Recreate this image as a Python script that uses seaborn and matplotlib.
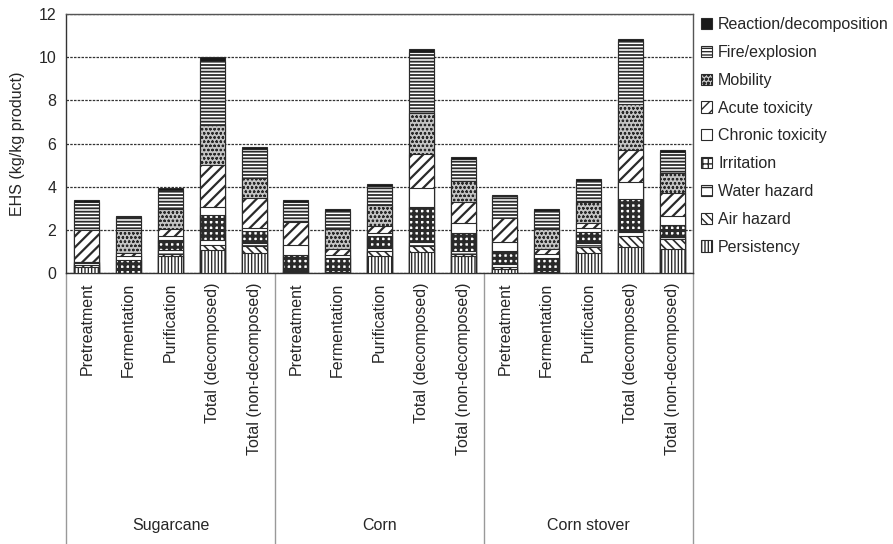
import numpy as np
import pandas as pd
import matplotlib
matplotlib.use("Agg")
import matplotlib.pyplot as plt
import matplotlib.transforms as mtransforms
from matplotlib.patches import Patch
import seaborn as sns

# ---- data (kg/kg product) ----
feedstocks = ["Sugarcane", "Corn", "Corn stover"]
stages = ["Pretreatment", "Fermentation", "Purification",
          "Total (decomposed)", "Total (non-decomposed)"]

persistency  = [0.30, 0.00, 0.77, 1.08, 0.93,  0.05, 0.05, 0.77, 0.95, 0.80,  0.20, 0.05, 0.93, 1.20, 1.11]
air_hazard   = [0.08, 0.00, 0.13, 0.22, 0.30,  0.03, 0.00, 0.23, 0.31, 0.10,  0.10, 0.00, 0.27, 0.50, 0.46]
water_hazard = [0.07, 0.00, 0.18, 0.24, 0.16,  0.02, 0.00, 0.16, 0.16, 0.10,  0.10, 0.00, 0.19, 0.18, 0.13]
irritation   = [0.08, 0.60, 0.46, 1.16, 0.54,  0.75, 0.65, 0.54, 1.63, 0.85,  0.60, 0.65, 0.49, 1.55, 0.54]
chronic_tox  = [0.00, 0.17, 0.19, 0.38, 0.15,  0.47, 0.15, 0.15, 0.88, 0.47,  0.45, 0.20, 0.20, 0.77, 0.41]
acute_tox    = [1.47, 0.15, 0.31, 1.92, 1.40,  1.03, 0.26, 0.32, 1.59, 0.99,  1.10, 0.21, 0.24, 1.51, 1.04]
mobility     = [0.00, 1.08, 0.92, 1.85, 0.93,  0.00, 0.93, 0.96, 1.90, 0.93,  0.00, 0.93, 0.96, 2.13, 0.93]
fire_expl    = [1.30, 0.60, 0.89, 2.99, 1.35,  0.95, 0.85, 0.92, 2.84, 1.05,  1.00, 0.85, 0.96, 2.89, 0.98]
reaction     = [0.10, 0.05, 0.10, 0.16, 0.10,  0.10, 0.06, 0.08, 0.11, 0.08,  0.05, 0.06, 0.11, 0.12, 0.10]

categories = ["Persistency", "Air hazard", "Water hazard", "Irritation",
              "Chronic toxicity", "Acute toxicity", "Mobility",
              "Fire/explosion", "Reaction/decomposition"]
series = [persistency, air_hazard, water_hazard, irritation, chronic_tox,
          acute_tox, mobility, fire_expl, reaction]

# fill style per category: (face, hatch, hatch linewidth)
styles = {
    "Persistency":            ("white", "|||||", 1.0),
    "Air hazard":             ("white", "\\\\\\\\", 1.2),
    "Water hazard":           ("white", "--", 1.0),
    "Irritation":             ("white", "+++", 2.2),
    "Chronic toxicity":       ("white", "", 1.0),
    "Acute toxicity":         ("white", "///", 1.6),
    "Mobility":               ("#c4c4c4", "oooo", 0.6),
    "Fire/explosion":         ("white", "-----", 1.3),
    "Reaction/decomposition": ("#1a1a1a", "", 1.0),
}

df = pd.DataFrame({c: v for c, v in zip(categories, series)})
df["pos"] = np.arange(len(df))
cum = df[categories].cumsum(axis=1)

sns.set_style("white")
plt.rcParams["font.family"] = ["Liberation Sans", "DejaVu Sans"]

fig = plt.figure(figsize=(8.93, 5.44), dpi=100)
ax = fig.add_axes([66 / 893, 1 - 273 / 544, (693 - 66) / 893, (273 - 14) / 544])

edge = "#2a2a2a"
# stacked bars: draw cumulative totals from the top layer down
for cat in reversed(categories):
    face, hatch, hlw = styles[cat]
    before = len(ax.patches)
    with plt.rc_context({"hatch.linewidth": hlw}):
        sns.barplot(x=df["pos"], y=cum[cat], ax=ax, color=face, saturation=1,
                    edgecolor=edge, linewidth=0.8, hatch=hatch, width=0.6,
                    errorbar=None, zorder=3)
    for p in ax.patches[before:]:
        if hasattr(p, "set_hatch_linewidth"):
            p.set_hatch_linewidth(hlw)

ax.set_ylim(0, 12)
ax.set_xlim(-0.5, 14.5)
ax.set_yticks(np.arange(0, 13, 2))
ax.yaxis.grid(True, linestyle=(0, (2, 1)), color="#333333", linewidth=0.9, zorder=0)
ax.xaxis.grid(False)
ax.set_axisbelow(True)

ax.set_xticks(np.arange(15))
ax.set_xticklabels(stages * 3, rotation=90, va="top", ha="center", fontsize=11.5)
ax.tick_params(axis="x", length=0, pad=7)
ax.tick_params(axis="y", direction="out", length=4, width=0.8, labelsize=11.5,
               color="#333333", pad=3)
ax.set_xlabel("")
ax.set_ylabel("EHS (kg/kg product)", fontsize=11.5, labelpad=10)

for side in ["left", "bottom"]:
    ax.spines[side].set_color("#333333")
    ax.spines[side].set_linewidth(1.0)
for side in ["top", "right"]:
    ax.spines[side].set_color("#555555")
    ax.spines[side].set_linewidth(1.0)

# second level of the category axis: feedstock groups
trans = mtransforms.blended_transform_factory(ax.transData, ax.transAxes)
for b in [-0.5, 4.5, 9.5, 14.5]:
    ax.plot([b, b], [0, -1.08], transform=trans, color="#999999", lw=1.0,
            clip_on=False)
for i, g in enumerate(feedstocks):
    ax.text(2 + 5 * i, -0.975, g, transform=trans, ha="center", va="center",
            fontsize=11.5)

handles = []
for cat in reversed(categories):
    face, hatch, hlw = styles[cat]
    handles.append(Patch(facecolor=face, edgecolor=edge, hatch=hatch,
                         linewidth=0.8, label=cat))
ax.legend(handles=handles, loc="upper left", bbox_to_anchor=(1.002, 1.012),
          frameon=False, fontsize=11.5, handlelength=0.7, handleheight=0.7,
          handletextpad=0.4, labelspacing=0.8, borderaxespad=0.0)

fig.savefig("out.png", dpi=100)
